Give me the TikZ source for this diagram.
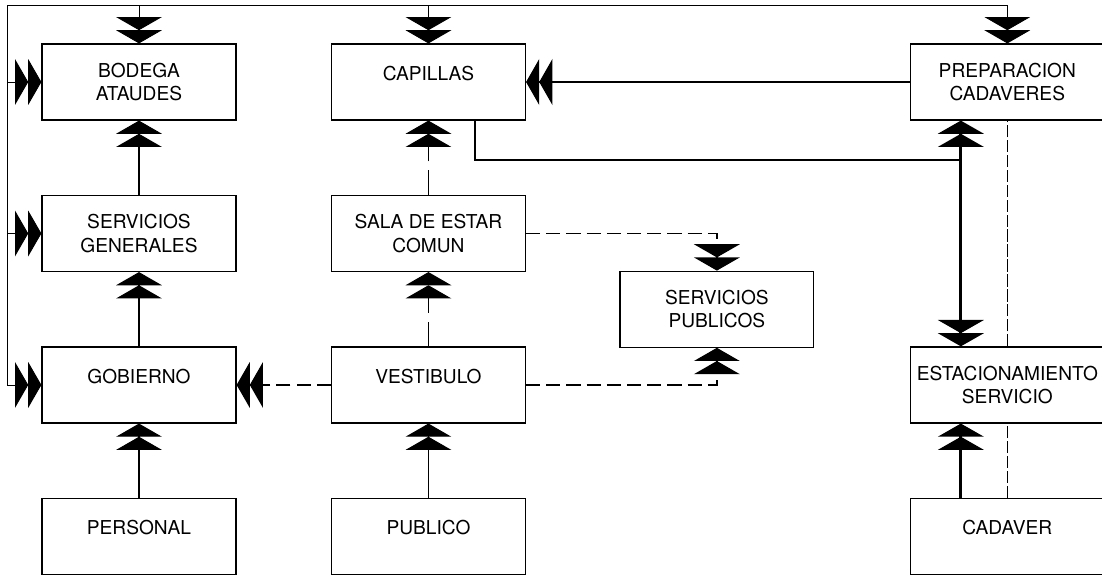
\documentclass[tikz,border=0pt]{standalone}
\usepackage{fontspec}
\setmainfont{TeX Gyre Heros}
\usetikzlibrary{arrows.meta, positioning}
\tikzset{
  dtip/.tip={Triangle[length=7.5pt,width=26pt] Triangle[length=7.5pt,width=26pt]}, % the double head
  >=dtip,
  node distance=3.03cm, % spacing of the rows
  box/.style={draw, line width=0.7pt, minimum width=3.88cm, minimum height=1.52cm,
    align=center, font=\fontsize{10.9}{13.2}\selectfont},
  one/.style={text depth=10pt}, % lifts a one line label a little
  frame/.style={->, line width=0.5pt}, % thin outer loop
  flow/.style={->, line width=0.6pt},
  pub/.style={->, line width=0.7pt, dash pattern=on 8pt off 3.5pt}, % public routes
  longpub/.style={->, line width=0.6pt, dash pattern=on 14pt off 5pt},
  body/.style={->, line width=1.6pt}, % route of the body
}
\begin{document}
\begin{tikzpicture}[x=0.02cm, y=-0.02cm]
    \useasboundingbox (0,0) rectangle (1102,575);

    \node[box] (bodega) at (139,82) {BODEGA\\ATAUDES};
    \node[box, one, node distance=5.79cm, right of=bodega] (capillas) {CAPILLAS};
    \node[box, node distance=11.58cm, right of=capillas] (prep) {PREPARACION\\CADAVERES};
    \node[box, below of=bodega] (servgen) {SERVICIOS\\GENERALES};
    \node[box, one, below of=servgen] (gobierno) {GOBIERNO};
    \node[box, one, below of=gobierno] (personal) {PERSONAL};
    \node[box, below of=capillas] (sala) {SALA DE ESTAR\\COMUN};
    \node[box, one, below of=sala] (vestibulo) {VESTIBULO};
    \node[box, one, below of=vestibulo] (publico) {PUBLICO};
    \node[box, node distance=5.77cm, right of=sala, yshift=-1.515cm] (servpub) {SERVICIOS\\PUBLICOS};
    \node[box, node distance=6.06cm, below of=prep] (estac) {ESTACIONAMIENTO\\SERVICIO};
    \node[box, one, below of=estac] (cadaver) {CADAVER};

    % outer loop
    \coordinate (corner) at (7,5);
    \draw[frame] (corner) -| (prep);
    \draw[frame] (corner) |- (gobierno);
    \draw[frame] (corner |- bodega) -- (bodega);
    \draw[frame] (corner |- servgen) -- (servgen);
    \draw[frame] (bodega |- corner) -- (bodega);
    \draw[frame] (capillas |- corner) -- (capillas);
    \draw[frame, -, dash pattern=on 7pt off 1.5pt]
    (cadaver) edge (estac)
    (estac) edge (prep);

    \draw
    (servgen) edge[flow] (bodega)
    (gobierno) edge[flow] (servgen)
    (personal) edge[flow] (gobierno)
    (publico) edge[flow] (vestibulo)
    (vestibulo) edge[longpub] (sala)
    (sala) edge[longpub] (capillas)
    (vestibulo) edge[pub] (gobierno)
    ;
    \draw[pub] (vestibulo) -| (servpub);
    \draw[pub] (sala) -| (servpub);

    % body route
    \coordinate (bend) at (961,160);
    \draw[body] (prep) -- (capillas);
    \draw[body, -] ([xshift=0.93cm]capillas.south) |- (bend);
    \draw[body, <->] ([xshift=-0.93cm]estac.north) -- ([xshift=-0.93cm]prep.south);
    \draw[body] ([xshift=-0.93cm]cadaver.north) -- ([xshift=-0.93cm]estac.south);

  \end{tikzpicture}
\end{document}
